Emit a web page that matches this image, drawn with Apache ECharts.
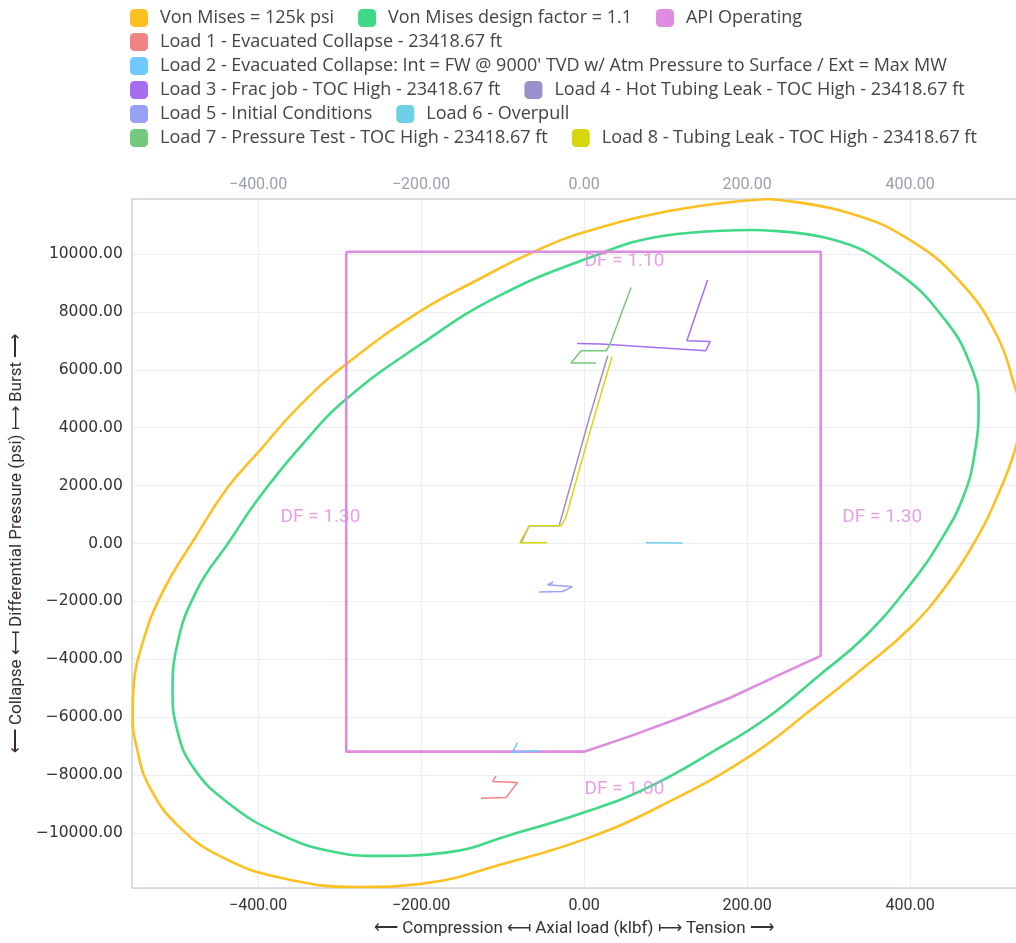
<!DOCTYPE html>
<html><head><meta charset="utf-8">
<script src="https://cdn.jsdelivr.net/npm/echarts@6/dist/echarts.min.js"></script>
<style>html,body{margin:0;padding:0;background:#fff}#c{width:1016px;height:943px}</style>
</head><body><div id="c"></div><script>
// ---- data ----
const vmX = [225.0,323.0,404.5,465.8,506.7,527.0,533.5,533.5,530.3,502.1,480.1,445.8,400.5,343.3,282.1,200.5,98.3,6.1,-108.1,-189.8,-279.6,-373.5,-443.0,-496.0,-532.8,-549.0,-554.0,-553.2,-541.0,-516.5,-479.7,-438.8,-400.1,-349.0,-291.9,-200.0,-132.7,-63.3,6.1,118.8,225.0];
const vmY = [11900,11437,10401,8905,7177,5563,4700,4100,3374,1303,93,-1403,-2903,-4285,-5667,-7395,-9005,-10159,-11137,-11714,-11863,-11541,-10850,-9813,-8431,-7049,-5895,-5090,-3362,-1634,93,1880,3144,4760,6199,8041,9077,10055,10805,11555,11900];
const dfX = [204.5,302.5,384.2,445.4,476.1,484.1,480.1,465.8,437.2,400.5,343.3,290.3,225.0,159.6,78.0,6.1,-87.8,-169.4,-251.1,-312.3,-373.5,-434.8,-479.7,-500.1,-505.0,-500.1,-475.6,-434.8,-400.1,-349.0,-291.9,-200.0,-108.1,2.1,98.3,204.5];
const dfY = [10829,10518,9364,7637,6026,4872,3262,1648,93,-1403,-3248,-4513,-6012,-7163,-8431,-9233,-10041,-10677,-10791,-10619,-10041,-9005,-7740,-6358,-5090,-3594,-1634,93,1534,3317,4990,6890,8500,9827,10632,10829];
const apiX = [-291.9,290.3,290.3,241.3,180.0,118.8,57.6,0,-291.9,-291.9];
const apiY = [10080,10080,-3880,-4513,-5321,-6012,-6645,-7190,-7190,10080];
const load1X = [-108.0,-112.3,-81.7,-95.9,-126.5];
const load1Y = [-8027,-8224,-8258,-8777,-8797];
const load2X = [-81.7,-85.7,-89.8,-55.1];
const load2Y = [-6876,-7105,-7222,-7163];
const load3X = [151.5,126.1,154.7,149.4,20.8,-8.6];
const load3Y = [9102,7003,6980,6659,6890,6910];
const load4X = [29.0,6.5,-30.6,-67.4,-77.2];
const load4Y = [6486,4354,613,613,30];
const load5X = [-38.0,-45.0,-14.3,-26.5,-55.1];
const load5Y = [-1330,-1427,-1496,-1658,-1672];
const load6X = [75.9,120.9];
const load6Y = [30,20];
const load7X = [57.6,31.0,26.9,-3.7,-16.0,14.7];
const load7Y = [8846,6831,6659,6659,6234,6234];
const load8X = [34.3,8.6,-22.4,-28.0,-67.4,-78.8,-45.0];
const load8Y = [6462,3998,898,613,613,30,30];
const dfLabelText = ['DF = 1.10','DF = 1.30','DF = 1.30','DF = 1.00'];
const dfLabelX = [0.5,-372.7,316.8,0.5];
const dfLabelY = [9734,922,922,-8487];
const names = ['Von Mises = 125k psi','Von Mises design factor = 1.1','API Operating',
  'Load 1 - Evacuated Collapse - 23418.67 ft',
  "Load 2 - Evacuated Collapse: Int = FW @ 9000' TVD w/ Atm Pressure to Surface / Ext = Max MW",
  'Load 3 - Frac job - TOC High - 23418.67 ft','Load 4 - Hot Tubing Leak - TOC High - 23418.67 ft',
  'Load 5 - Initial Conditions','Load 6 - Overpull',
  'Load 7 - Pressure Test - TOC High - 23418.67 ft','Load 8 - Tubing Leak - TOC High - 23418.67 ft'];
const colors = ['#FDC023','#3FD987','#DE8CE0','#F08484','#6FC9FF','#A56EF0','#9B90CC','#97A2F7','#6ECFE6','#74C97C','#D7D70C'];
const legendRows = [[0,1,2],[3],[4],[5,6],[7,8],[9,10]];
// ---- build ----
const zip = (xs, ys) => xs.map((x, i) => [x, ys[i]]);
const seriesData = [zip(vmX,vmY), zip(dfX,dfY), zip(apiX,apiY), zip(load1X,load1Y), zip(load2X,load2Y),
  zip(load3X,load3Y), zip(load4X,load4Y), zip(load5X,load5Y), zip(load6X,load6Y), zip(load7X,load7Y), zip(load8X,load8Y)];
const series = seriesData.map((d, i) => ({
  name: names[i], type: 'line', data: d, showSymbol: false, symbol: 'none',
  smooth: i < 2 ? 0.45 : false, clip: true,
  lineStyle: { color: colors[i], width: i < 3 ? 2.6 : 1.5 },
  itemStyle: { color: colors[i] }, z: i < 3 ? 2 : 3
}));
series.push({
  type: 'scatter', symbolSize: 0.1, itemStyle: { color: 'rgba(0,0,0,0)' },
  data: dfLabelX.map((x, i) => [x, dfLabelY[i], dfLabelText[i]]),
  label: { show: true, position: 'right', distance: 0, formatter: p => p.data[2], color: '#DE8CE0', fontSize: 19, fontFamily: 'Roboto' },
  z: 4
});
const legends = legendRows.map((r, i) => ({
  data: r.map(k => names[k]), left: 130, top: 9 + 24 * i, orient: 'horizontal', padding: 0,
  icon: 'roundRect', itemWidth: 18, itemHeight: 18, itemGap: 24, selectedMode: false,
  textStyle: { fontSize: 18, color: '#444', fontFamily: 'Open Sans', padding: [0, 0, 0, 7] }
}));
const fmt = v => v.toFixed(2).replace('-', '\u2212');
const axisFont = 'Roboto';
const chart = echarts.init(document.getElementById('c'), null, { renderer: 'canvas' });
chart.setOption({
  animation: false,
  backgroundColor: '#fff',
  legend: legends,
  grid: { left: 131, right: 0, top: 199, bottom: 55, containLabel: false },
  xAxis: [{
    type: 'value', min: -555, max: 530, splitNumber: 5, position: 'bottom',
    axisLine: { show: true, onZero: false, lineStyle: { color: '#cfd4dc', width: 1.5 } }, axisTick: { show: false },
    axisLabel: { formatter: fmt, showMinLabel: false, showMaxLabel: false, fontSize: 16, color: '#333', margin: 10, fontFamily: axisFont },
    splitLine: { show: true, lineStyle: { color: '#eceef3', width: 1.2 } },
    name: '⟵ Compression ⟻ Axial load (klbf) ⟼ Tension ⟶', nameLocation: 'middle', nameGap: 32,
    nameTextStyle: { fontSize: 17, color: '#333', fontFamily: axisFont }
  }, {
    type: 'value', min: -555, max: 530, splitNumber: 5, position: 'top',
    axisLine: { show: true, onZero: false, lineStyle: { color: '#cfd4dc', width: 1.5 } }, axisTick: { show: false },
    axisLabel: { formatter: fmt, showMinLabel: false, showMaxLabel: false, fontSize: 16, color: '#9aa0aa', margin: 6, fontFamily: axisFont },
    splitLine: { show: false }
  }],
  yAxis: {
    type: 'value', min: -11900, max: 11900, splitNumber: 10,
    axisLine: { show: true, onZero: false, lineStyle: { color: '#cfd4dc', width: 1.5 } }, axisTick: { show: false },
    axisLabel: { formatter: fmt, showMinLabel: false, showMaxLabel: false, fontSize: 15.5, color: '#333', margin: 9, fontFamily: 'DejaVu Sans' },
    splitLine: { show: true, lineStyle: { color: '#eceef3', width: 1.2 } },
    name: '⟵ Collapse ⟻ Differential Pressure (psi) ⟼ Burst ⟶', nameLocation: 'middle', nameGap: 97, nameRotate: 90,
    nameTextStyle: { fontSize: 17, color: '#3a2c2c', fontFamily: axisFont }
  },
  series: series
});
</script></body></html>
